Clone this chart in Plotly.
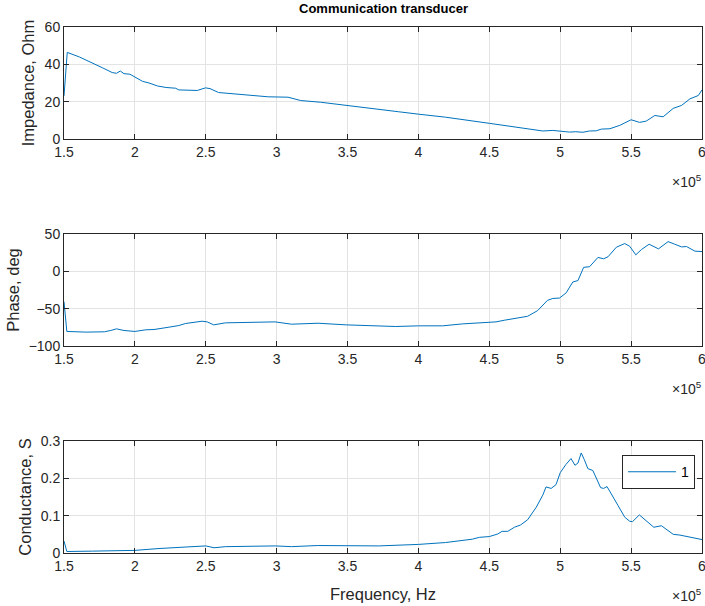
import plotly.graph_objects as go
from plotly.subplots import make_subplots

# ---- data ----
freq_imp = [150000, 152300, 161000, 170000, 177000, 184000, 187000, 189700, 192300, 196500,
            200000, 205400, 210000, 216000, 222000, 228700, 231000, 244000, 249800, 253000,
            259000, 266000, 277800, 294000, 308000, 317000, 331000, 349000, 372200, 386000,
            400000, 419000, 450000, 466500, 478000, 487700, 494800, 500000, 506600, 511000,
            516000, 520700, 525400, 529000, 535000, 542000, 550000, 556000, 560700, 566700,
            572600, 579700, 585600, 591500, 597400, 600000]
impedance = [23.1, 46.4, 43.9, 40.9, 38.2, 35.6, 35.2, 36.4, 35.0, 34.7,
             33.1, 30.9, 30.0, 28.4, 27.6, 27.2, 26.3, 26.0, 27.4, 27.0,
             24.9, 24.5, 23.6, 22.6, 22.4, 20.6, 19.7, 18.1, 16.2, 14.6,
             13.3, 11.7, 8.4, 6.6, 5.0, 4.3, 4.6, 4.1, 3.7, 3.9,
             3.6, 4.3, 4.4, 5.3, 5.5, 7.3, 10.3, 8.9, 9.6, 12.6,
             11.9, 16.4, 18.0, 21.5, 23.3, 26.3]

freq_ph = [150000, 152000, 165700, 178500, 183000, 187000, 192300, 200000, 207700, 213500,
           224000, 231000, 235600, 242800, 247400, 251000, 255600, 263800, 277800, 298800,
           310500, 329200, 349000, 372000, 384000, 400000, 417000, 431000, 443000, 454700,
           460600, 471200, 477000, 484000, 491000, 494800, 499500, 504200, 508900, 512500,
           516500, 520700, 526600, 530600, 533700, 539600, 545500, 549000, 553300, 557300,
           562700, 569300, 576100, 580800, 585600, 589100, 595000, 600000]
phase = [-40.7, -80.5, -81.4, -81.0, -79.2, -77.0, -79.2, -80.5, -78.3, -77.9,
         -74.8, -72.6, -69.9, -68.6, -66.8, -67.7, -71.7, -69.0, -68.6, -67.7,
         -70.8, -69.5, -71.7, -72.6, -73.9, -73.0, -73.0, -70.4, -68.6, -67.7,
         -65.5, -62.4, -60.2, -52.7, -38.9, -36.3, -35.8, -28.8, -14.2, -12.4,
         5.3, 6.2, 18.6, 16.8, 19.5, 32.3, 37.2, 33.6, 22.1, 29.2,
         36.3, 30.1, 39.8, 36.3, 32.7, 33.2, 27.0, 26.5]

freq_g = [150000, 152000, 170000, 200000, 217000, 233500, 250000, 255800, 264000, 299000,
          310500, 329000, 349000, 372000, 400000, 419000, 438000, 443000, 450000, 456000,
          459000, 463000, 467700, 472000, 477000, 483000, 487700, 490000, 493600, 497000,
          500000, 504000, 507600, 510400, 512500, 514800, 517000, 519500, 523000, 528500,
          530600, 533000, 540800, 545500, 549000, 551000, 555800, 559800, 566000, 571400,
          579700, 584400, 591500, 600000]
conductance = [0.032, 0.004, 0.005, 0.007, 0.012, 0.016, 0.019, 0.014, 0.017, 0.019,
               0.017, 0.020, 0.020, 0.019, 0.023, 0.028, 0.037, 0.042, 0.044, 0.051,
               0.058, 0.058, 0.069, 0.075, 0.089, 0.122, 0.155, 0.177, 0.173, 0.183,
               0.215, 0.237, 0.253, 0.235, 0.241, 0.268, 0.250, 0.226, 0.221, 0.175,
               0.173, 0.178, 0.127, 0.096, 0.085, 0.084, 0.102, 0.088, 0.069, 0.073,
               0.050, 0.048, 0.042, 0.036]

x_tickvals = [150000, 200000, 250000, 300000, 350000, 400000, 450000, 500000, 550000, 600000]
x_ticktext = ["1.5", "2", "2.5", "3", "3.5", "4", "4.5", "5", "5.5", "6"]
imp_ticks = [0, 20, 40, 60]
ph_ticks = [-100, -50, 0, 50]
g_ticks = [0, 0.1, 0.2, 0.3]
g_ticktext = ["0", "0.1", "0.2", "0.3"]

title_text = "Communication transducer"
legend_name = "1"

# ---- figure ----
LINE = "#0072BD"
AX = "#262626"
GRID = "#e3e3e3"
FONT = "Liberation Sans, Arial, sans-serif"

fig = make_subplots(rows=3, cols=1, shared_xaxes=False, vertical_spacing=0.1)

fig.add_trace(go.Scatter(x=freq_imp, y=impedance, mode="lines", line=dict(color=LINE, width=1),
                         showlegend=False), row=1, col=1)
fig.add_trace(go.Scatter(x=freq_ph, y=phase, mode="lines", line=dict(color=LINE, width=1),
                         showlegend=False), row=2, col=1)
fig.add_trace(go.Scatter(x=freq_g, y=conductance, mode="lines", line=dict(color=LINE, width=1),
                         name=legend_name, showlegend=True), row=3, col=1)

H = 526.0
dom3 = [0, 112 / H]
dom2 = [207 / H, 319 / H]
dom1 = [414 / H, 1]

common_x = dict(range=[150000, 600000], tickvals=x_tickvals, ticktext=x_ticktext,
                showgrid=True, gridcolor=GRID, gridwidth=1, zeroline=False,
                showline=True, linecolor=AX, linewidth=1, mirror="allticks",
                ticks="inside", ticklen=5, tickcolor=AX, automargin=False,
                ticklabeloverflow="allow",
                tickfont=dict(family=FONT, size=14, color=AX))
common_y = dict(showgrid=True, gridcolor=GRID, gridwidth=1, zeroline=False,
                showline=True, linecolor=AX, linewidth=1, mirror="allticks",
                ticks="inside", ticklen=5, tickcolor=AX, automargin=False,
                tickfont=dict(family=FONT, size=14, color=AX))

fig.update_xaxes(**common_x)
fig.update_yaxes(**common_y)

TF = dict(family=FONT, size=16.5, color=AX)
fig.update_yaxes(row=1, col=1, domain=dom1, range=[0, 60], tickvals=imp_ticks,
                 title=dict(text="Impedance, Ohm", font=TF, standoff=5))
fig.update_yaxes(row=2, col=1, domain=dom2, range=[-100, 50], tickvals=ph_ticks,
                 title=dict(text="Phase, deg", font=TF, standoff=4))
fig.update_yaxes(row=3, col=1, domain=dom3, range=[0, 0.3], tickvals=g_ticks, ticktext=g_ticktext,
                 title=dict(text="Conductance, S", font=TF, standoff=4))
fig.update_xaxes(row=3, col=1, title=dict(text="Frequency, Hz", font=TF, standoff=15))

annotations = [
    dict(text="<b>" + title_text + "</b>", x=0.5, y=1, xref="paper", yref="paper",
         xanchor="center", yanchor="bottom", yshift=9, showarrow=False,
         font=dict(family=FONT, size=13, color="#000000")),
]
for dom in (dom1, dom2, dom3):
    annotations.append(dict(text="×10<sup>5</sup>", x=1, y=dom[0], xref="paper", yref="paper",
                            xanchor="right", yanchor="top", yshift=-31, xshift=2, showarrow=False,
                            font=dict(family=FONT, size=14, color=AX)))

fig.update_layout(
    width=705, height=606,
    margin=dict(l=64, r=3, t=27, b=53, autoexpand=False),
    paper_bgcolor="white", plot_bgcolor="white",
    font=dict(family=FONT, color=AX),
    annotations=annotations,
    legend=dict(x=0.989, y=0.186, xanchor="right", yanchor="top",
                bordercolor=AX, borderwidth=1, bgcolor="white",
                font=dict(family=FONT, size=14, color="#000000"),
                itemwidth=48, tracegroupgap=0, traceorder="normal"),
)

# remove the default page margin so the 705x606 figure fills the window exactly
fig.write_html("out.html", config={"displayModeBar": False},
               post_script="document.body.style.margin='0';document.body.style.overflow='hidden';")
